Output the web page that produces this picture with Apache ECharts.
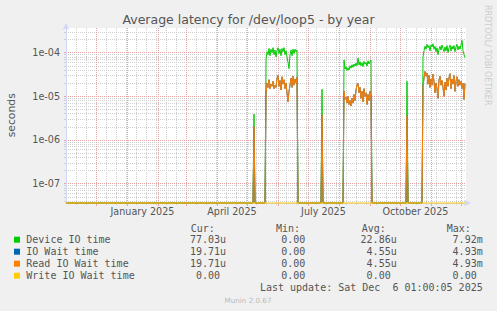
<!DOCTYPE html>
<html>
<head>
<meta charset="utf-8">
<script src="https://cdn.jsdelivr.net/npm/echarts@6/dist/echarts.min.js"></script>
<style>
html,body{margin:0;padding:0;background:#f0f0f0;}
#c{width:497px;height:311px;}
</style>
</head>
<body>
<div id="c"></div>
<script>
// ---------------- DATA ----------------
const DAY = 86400000;
const startTime = Date.UTC(2024, 10, 1, 1, 0, 5);   // graph start (400 days before last update)
const endTime = Date.UTC(2025, 11, 6, 1, 0, 5);     // last update
const dayCount = 400;

const seriesNames = ['Device IO time', 'IO Wait time', 'Read IO Wait time', 'Write IO Wait time'];
const seriesColors = ['#00CC00', '#0066B3', '#FF8000', '#FFCC00'];

// day offsets (from startTime) where each non-zero block begins; all other days are 0
const blockStartDays = [188, 200, 256, 278, 341, 357];

const deviceBlock1 = [3.9e-6];
const deviceBlock2 = [7.0e-5, 1.05e-4, 9.0e-5, 1.25e-4, 8.5e-5, 1.2e-4, 1.0e-4, 1.3e-4, 9.0e-5, 1.15e-4,
  8.0e-5, 1.1e-4, 1.3e-4, 9.5e-5, 1.2e-4, 8.5e-5, 1.25e-4, 1.05e-4, 1.3e-4, 9.0e-5,
  1.1e-4, 8.0e-5, 6.0e-5, 4.3e-5, 9.0e-5, 1.15e-4, 8.5e-5, 1.2e-4, 9.5e-5, 1.2e-4, 1.05e-4, 1.15e-4];
const deviceBlock3 = [1.45e-5];
const deviceBlock4 = [6.8e-5, 4.2e-5, 4.8e-5, 3.9e-5, 4.5e-5, 4.0e-5, 5.0e-5, 4.4e-5, 5.3e-5, 4.6e-5,
  5.5e-5, 4.9e-5, 5.8e-5, 5.0e-5, 7.5e-5, 5.2e-5, 6.2e-5, 5.0e-5, 5.9e-5, 4.8e-5,
  6.3e-5, 5.4e-5, 6.0e-5, 4.9e-5, 6.5e-5, 5.5e-5, 6.2e-5, 6.8e-5];
const deviceBlock5 = [2.2e-5];
const deviceBlock6 = [8.0e-5, 1.1e-4, 1.4e-4, 1.2e-4, 1.55e-4, 1.3e-4, 1.45e-4, 1.1e-4, 1.5e-4, 1.35e-4,
  1.6e-4, 1.2e-4, 1.4e-4, 1.05e-4, 1.3e-4, 9.0e-5, 1.2e-4, 1.4e-4, 1.15e-4, 1.5e-4,
  1.25e-4, 1.05e-4, 1.35e-4, 1.1e-4, 1.45e-4, 1.0e-4, 1.3e-4, 1.5e-4, 1.1e-4, 1.4e-4,
  1.2e-4, 1.45e-4, 1.05e-4, 1.35e-4, 1.55e-4, 1.15e-4, 1.4e-4, 1.2e-4, 1.5e-4, 1.9e-4,
  1.1e-4, 9.0e-5, 7.703e-5];

const readBlock1 = [2.0e-6];
const readBlock2 = [1.1e-5, 2.0e-5, 1.6e-5, 2.4e-5, 1.5e-5, 1.9e-5, 1.7e-5, 2.2e-5, 1.5e-5, 1.8e-5,
  1.6e-5, 2.6e-5, 3.0e-5, 1.7e-5, 2.3e-5, 1.4e-5, 2.8e-5, 1.9e-5, 2.4e-5, 1.5e-5,
  2.0e-5, 1.2e-5, 7.5e-6, 1.3e-5, 1.8e-5, 2.6e-5, 1.6e-5, 2.9e-5, 1.8e-5, 2.5e-5, 2.0e-5, 2.7e-5];
const readBlock3 = [3.7e-6];
const readBlock4 = [1.3e-5, 8.5e-6, 9.5e-6, 7.0e-6, 1.0e-5, 6.5e-6, 8.0e-6, 6.0e-6, 9.0e-6, 7.0e-6,
  1.1e-5, 8.0e-6, 1.4e-5, 1.8e-5, 2.0e-5, 1.2e-5, 1.6e-5, 9.0e-6, 1.3e-5, 7.5e-6,
  1.5e-5, 1.0e-5, 1.2e-5, 6.5e-6, 1.1e-5, 8.0e-6, 1.3e-5, 9.0e-6];
const readBlock5 = [3.6e-6];
const readBlock6 = [1.7e-5, 2.6e-5, 3.7e-5, 2.9e-5, 3.4e-5, 1.9e-5, 3.0e-5, 1.6e-5, 2.5e-5, 1.8e-5,
  3.2e-5, 2.2e-5, 1.2e-5, 2.0e-5, 1.5e-5, 9.0e-6, 2.4e-5, 2.9e-5, 1.8e-5, 2.3e-5,
  1.6e-5, 1.0e-5, 2.1e-5, 1.4e-5, 2.6e-5, 1.7e-5, 2.7e-5, 3.3e-5, 1.5e-5, 2.5e-5,
  1.9e-5, 3.0e-5, 1.3e-5, 2.2e-5, 2.8e-5, 1.7e-5, 2.4e-5, 1.8e-5, 2.2e-5, 1.5e-5,
  2.0e-5, 8.5e-6, 1.971e-5];

// IO Wait equals Read IO Wait (identical legend statistics); Write IO Wait is 0 throughout
const deviceBlocks = [deviceBlock1, deviceBlock2, deviceBlock3, deviceBlock4, deviceBlock5, deviceBlock6];
const readBlocks = [readBlock1, readBlock2, readBlock3, readBlock4, readBlock5, readBlock6];
const ioWaitBlocks = readBlocks;
const writeBlocks = [[], [], [], [], [], []];

// legend statistics
const legendCur = ['77.03u', '19.71u', '19.71u', '0.00'];
const legendMin = ['0.00', '0.00', '0.00', '0.00'];
const legendAvg = ['22.86u', '4.55u', '4.55u', '0.00'];
const legendMax = ['7.92m', '4.93m', '4.93m', '0.00'];
const lastUpdateText = 'Last update: Sat Dec  6 01:00:05 2025';

// axes
const yMin = 3.6e-8, yMax = 3.67e-4;
const yTickValues = [1e-7, 1e-6, 1e-5, 1e-4];
const yTickLabels = ['1e-07', '1e-06', '1e-05', '1e-04'];
const xTickLabels = ['January 2025', 'April 2025', 'July 2025', 'October 2025'];
const xTickLabelTimes = [Date.UTC(2025, 0, 16, 12), Date.UTC(2025, 3, 16), Date.UTC(2025, 6, 16, 12), Date.UTC(2025, 9, 16, 12)];
const monthStarts = [Date.UTC(2024, 11, 1), Date.UTC(2025, 0, 1), Date.UTC(2025, 1, 1), Date.UTC(2025, 2, 1),
  Date.UTC(2025, 3, 1), Date.UTC(2025, 4, 1), Date.UTC(2025, 5, 1), Date.UTC(2025, 6, 1), Date.UTC(2025, 7, 1),
  Date.UTC(2025, 8, 1), Date.UTC(2025, 9, 1), Date.UTC(2025, 10, 1), Date.UTC(2025, 11, 1)];
const minorGridStepDays = 10;

// ---------------- BUILD ----------------
function buildValues(blocks) {
  const arr = new Array(dayCount).fill(0);
  blocks.forEach((b, bi) => b.forEach((v, k) => { arr[blockStartDays[bi] + k] = v; }));
  return arr;
}
// rrdtool draws 0 on a log scale at the bottom edge of the graph
function toPoints(values) {
  return values.map((v, i) => [startTime + i * DAY, v > 0 ? v : yMin]);
}
const allBlocks = [deviceBlocks, ioWaitBlocks, readBlocks, writeBlocks];

const minorX = [];
for (let t = startTime + minorGridStepDays * DAY; t < endTime; t += minorGridStepDays * DAY) minorX.push(t);
const yMajorLog = yTickValues.map(v => Math.log10(v));
const yMinorLog = [];
[-8, -7, -6, -5, -4].forEach(e => [2, 3, 4, 5, 6, 7, 8, 9].forEach(m => {
  const v = m * Math.pow(10, e);
  if (v > yMin && v < yMax) yMinorLog.push(Math.log10(v));
}));

const FONT = 'DejaVu Sans';
const MONO = 'DejaVu Sans Mono';
const TEXT = '#555555';
const AXIS = '#CFD6F8';
const MAJOR = '#E9A3A3';
const MINOR = '#CFCFCF';

const grid = { left: 66, top: 28, width: 400, height: 175 };

const xAxes = [
  { // minor grid
    type: 'value', gridIndex: 0, position: 'bottom', min: startTime, max: endTime, z: 0,
    axisLine: { show: false, onZero: false },
    axisTick: { show: true, customValues: minorX, length: 2, lineStyle: { color: MINOR } },
    axisLabel: { show: false },
    splitLine: { show: true, lineStyle: { color: MINOR, type: [1, 1], width: 1 } }
  },
  { // major grid (months)
    type: 'value', gridIndex: 0, position: 'bottom', min: startTime, max: endTime, z: 1,
    axisLine: { show: false, onZero: false },
    axisTick: { show: true, customValues: monthStarts, length: 3, lineStyle: { color: MAJOR } },
    axisLabel: { show: false },
    splitLine: { show: true, lineStyle: { color: MAJOR, type: [1, 1], width: 1 } }
  },
  { // data axis with labels
    type: 'value', gridIndex: 0, position: 'bottom', min: startTime, max: endTime, z: 2,
    axisLine: { show: true, onZero: false, lineStyle: { color: AXIS, width: 1 },
      symbol: ['none', 'arrow'], symbolSize: [5, 7], symbolOffset: [0, 5] },
    axisTick: { show: false },
    splitLine: { show: false },
    axisLabel: {
      show: true, customValues: xTickLabelTimes, margin: 3,
      color: TEXT, fontFamily: FONT, fontSize: 9.6,
      formatter: v => { const i = xTickLabelTimes.indexOf(v); return i >= 0 ? xTickLabels[i] : ''; }
    }
  }
];

const yAxes = [
  { // data axis (logarithmic)
    type: 'log', logBase: 10, gridIndex: 0, position: 'left', min: yMin, max: yMax, z: 0,
    axisLine: { show: false, onZero: false }, axisTick: { show: false },
    axisLabel: { show: false }, splitLine: { show: false }, minorSplitLine: { show: false }
  },
  { // minor grid, in log10 space
    type: 'value', gridIndex: 0, position: 'left', min: Math.log10(yMin), max: Math.log10(yMax), z: 0,
    axisLine: { show: false, onZero: false },
    axisTick: { show: true, customValues: yMinorLog, length: 2, lineStyle: { color: MINOR } },
    axisLabel: { show: false },
    splitLine: { show: true, lineStyle: { color: MINOR, type: [1, 1], width: 1 } }
  },
  { // major grid + labels, in log10 space
    type: 'value', gridIndex: 0, position: 'left', min: Math.log10(yMin), max: Math.log10(yMax), z: 1,
    axisLine: { show: true, onZero: false, lineStyle: { color: AXIS, width: 1 },
      symbol: ['none', 'arrow'], symbolSize: [5, 7], symbolOffset: [0, 5] },
    axisTick: { show: true, customValues: yMajorLog, length: 2, lineStyle: { color: MAJOR } },
    axisLabel: {
      show: true, customValues: yMajorLog, margin: 6, color: TEXT, fontFamily: FONT, fontSize: 9.6,
      formatter: v => {
        let best = 0;
        yMajorLog.forEach((lv, i) => { if (Math.abs(lv - v) < Math.abs(yMajorLog[best] - v)) best = i; });
        return yTickLabels[best];
      }
    },
    splitLine: { show: true, lineStyle: { color: MAJOR, type: [1, 1], width: 1 } }
  }
];

const series = allBlocks.map((blocks, si) => ({
  name: seriesNames[si],
  type: 'line',
  xAxisIndex: 2,
  yAxisIndex: 0,
  data: toPoints(buildValues(blocks)),
  showSymbol: false,
  symbol: 'none',
  clip: false,
  silent: true,
  lineStyle: { color: seriesColors[si], width: 1 },
  itemStyle: { color: seriesColors[si] },
  emphasis: { disabled: true },
  z: 3 + si
}));

// legend / text block
const graphics = [];
function txt(text, x, y, opts) {
  graphics.push(Object.assign({
    type: 'text', x: x, y: y, silent: true,
    style: Object.assign({ text: text, fill: TEXT, font: '10px "' + MONO + '"', align: 'left', verticalAlign: 'middle' }, opts || {})
  }));
}
graphics.push({ type: 'text', x: 248.5, y: 19.5, silent: true,
  style: { text: 'Average latency for /dev/loop5 - by year', fill: TEXT, font: '12.5px "' + FONT + '"', align: 'center', verticalAlign: 'middle' } });
graphics.push({ type: 'text', x: 11.2, y: 115.3, rotation: Math.PI / 2, silent: true,
  style: { text: 'seconds', fill: TEXT, font: '10.8px "' + FONT + '"', align: 'center', verticalAlign: 'middle' } });
graphics.push({ type: 'text', x: 487.5, y: 5, rotation: -Math.PI / 2, silent: true,
  style: { text: 'RRDTOOL/ TOBI OETIKER', fill: '#CCCCCC', font: '8px "' + FONT + '"', align: 'left', verticalAlign: 'middle' } });

const headerY = 228.5;
const rowY0 = 239.7, rowStep = 12;
const charW = 6.0;
const colRight = [226, 311.3, 396.7, 482.7];
const headerX = [190.7, 276, 361.7, 446.7];
['Cur:', 'Min:', 'Avg:', 'Max:'].forEach((h, i) => txt(h, headerX[i], headerY));
const cols = [legendCur, legendMin, legendAvg, legendMax];
seriesNames.forEach((name, i) => {
  const y = rowY0 + i * rowStep;
  graphics.push({ type: 'rect', silent: true, shape: { x: 14, y: y - 3, width: 6, height: 6 }, style: { fill: seriesColors[i] } });
  txt(name, 26.3, y);
  cols.forEach((col, c) => {
    const s = col[i];
    const hasUnit = /[a-zA-Z]$/.test(s);
    txt(s, colRight[c] - (hasUnit ? 0 : charW), y, { align: 'right' });
  });
});
txt(lastUpdateText.replace(/ /g, '\u00a0'), 482.7, 287.3, { align: 'right' });
graphics.push({ type: 'text', x: 248, y: 300, silent: true,
  style: { text: 'Munin 2.0.67', fill: '#BBBBBB', font: '7.2px "' + FONT + '"', align: 'center', verticalAlign: 'middle' } });

const chart = echarts.init(document.getElementById('c'), null, { renderer: 'svg', width: 497, height: 311 });
chart.setOption({
  backgroundColor: '#F0F0F0',
  animation: false,
  grid: Object.assign({ show: true, backgroundColor: '#FFFFFF', borderWidth: 0 }, grid),
  xAxis: xAxes,
  yAxis: yAxes,
  series: series,
  graphic: graphics
});
</script>
</body>
</html>
